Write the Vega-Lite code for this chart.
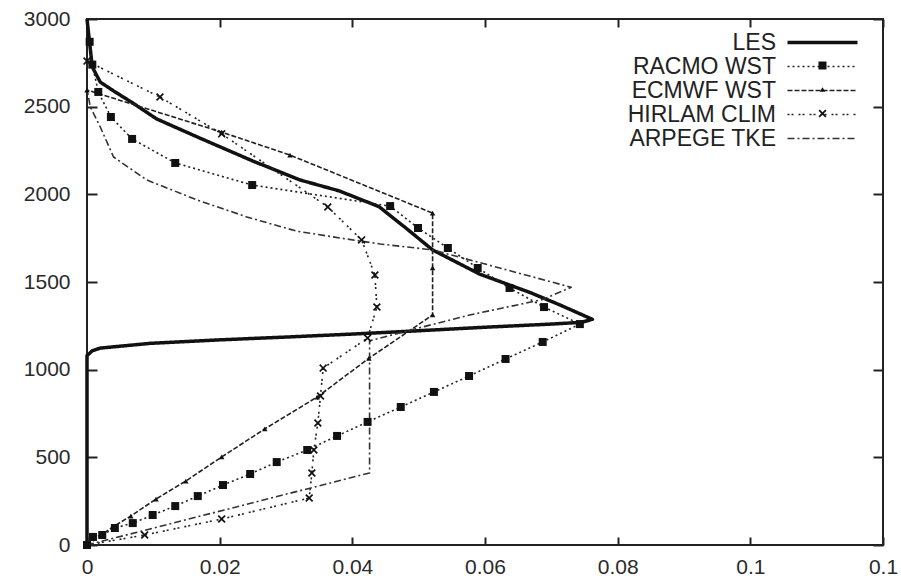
{
  "$schema": "https://vega.github.io/schema/vega-lite/v6.json",
  "width": 796,
  "height": 526,
  "autosize": {"type": "none"},
  "padding": {"left": 87, "top": 19, "right": 18, "bottom": 36},
  "background": "white",
  "config": {
    "view": {"stroke": "#222", "strokeWidth": 2},
    "font": "Liberation Sans",
    "axis": {"grid": false, "domain": false, "labelFont": "Liberation Sans", "labelFontSize": 21, "labelColor": "#2a2a2a", "tickColor": "#222", "tickWidth": 2, "labelFlush": false, "labelOverlap": false}
  },
  "data": {"values": [
    {"s": "LES", "x": 0, "y": 0}, {"s": "LES", "x": 0, "y": 1080}, {"s": "LES", "x": 0.0008, "y": 1108}, {"s": "LES", "x": 0.002, "y": 1123}, {"s": "LES", "x": 0.0095, "y": 1150}, {"s": "LES", "x": 0.02, "y": 1170}, {"s": "LES", "x": 0.03, "y": 1186}, {"s": "LES", "x": 0.04, "y": 1203}, {"s": "LES", "x": 0.05, "y": 1222}, {"s": "LES", "x": 0.06, "y": 1242}, {"s": "LES", "x": 0.07, "y": 1260}, {"s": "LES", "x": 0.0745, "y": 1270}, {"s": "LES", "x": 0.0762, "y": 1287}, {"s": "LES", "x": 0.0713, "y": 1369}, {"s": "LES", "x": 0.0668, "y": 1440}, {"s": "LES", "x": 0.0592, "y": 1545}, {"s": "LES", "x": 0.0521, "y": 1683}, {"s": "LES", "x": 0.048, "y": 1810}, {"s": "LES", "x": 0.044, "y": 1930}, {"s": "LES", "x": 0.038, "y": 2020}, {"s": "LES", "x": 0.0321, "y": 2082}, {"s": "LES", "x": 0.025, "y": 2190}, {"s": "LES", "x": 0.017, "y": 2321}, {"s": "LES", "x": 0.0105, "y": 2430}, {"s": "LES", "x": 0.0069, "y": 2521}, {"s": "LES", "x": 0.004, "y": 2590}, {"s": "LES", "x": 0.002, "y": 2640}, {"s": "LES", "x": 0.0008, "y": 2726}, {"s": "LES", "x": 0, "y": 3000},
    {"s": "RACMO WST", "x": 0, "y": 0}, {"s": "RACMO WST", "x": 0.0009, "y": 46}, {"s": "RACMO WST", "x": 0.0023, "y": 57}, {"s": "RACMO WST", "x": 0.0042, "y": 97}, {"s": "RACMO WST", "x": 0.0069, "y": 125}, {"s": "RACMO WST", "x": 0.0099, "y": 171}, {"s": "RACMO WST", "x": 0.0133, "y": 222}, {"s": "RACMO WST", "x": 0.0167, "y": 279}, {"s": "RACMO WST", "x": 0.0205, "y": 342}, {"s": "RACMO WST", "x": 0.0246, "y": 405}, {"s": "RACMO WST", "x": 0.0286, "y": 473}, {"s": "RACMO WST", "x": 0.0332, "y": 542}, {"s": "RACMO WST", "x": 0.0377, "y": 622}, {"s": "RACMO WST", "x": 0.0423, "y": 702}, {"s": "RACMO WST", "x": 0.0473, "y": 787}, {"s": "RACMO WST", "x": 0.0523, "y": 873}, {"s": "RACMO WST", "x": 0.0576, "y": 964}, {"s": "RACMO WST", "x": 0.0631, "y": 1061}, {"s": "RACMO WST", "x": 0.0687, "y": 1158}, {"s": "RACMO WST", "x": 0.0743, "y": 1260}, {"s": "RACMO WST", "x": 0.0689, "y": 1357}, {"s": "RACMO WST", "x": 0.0637, "y": 1466}, {"s": "RACMO WST", "x": 0.0589, "y": 1580}, {"s": "RACMO WST", "x": 0.0544, "y": 1694}, {"s": "RACMO WST", "x": 0.0499, "y": 1808}, {"s": "RACMO WST", "x": 0.0457, "y": 1933}, {"s": "RACMO WST", "x": 0.0249, "y": 2053}, {"s": "RACMO WST", "x": 0.0133, "y": 2179}, {"s": "RACMO WST", "x": 0.0068, "y": 2316}, {"s": "RACMO WST", "x": 0.0036, "y": 2441}, {"s": "RACMO WST", "x": 0.0017, "y": 2584}, {"s": "RACMO WST", "x": 0.0008, "y": 2740}, {"s": "RACMO WST", "x": 0.0004, "y": 2870},
    {"s": "ECMWF WST", "x": 0, "y": 0}, {"s": "ECMWF WST", "x": 0.0039, "y": 103}, {"s": "ECMWF WST", "x": 0.0066, "y": 165}, {"s": "ECMWF WST", "x": 0.0104, "y": 262}, {"s": "ECMWF WST", "x": 0.0149, "y": 365}, {"s": "ECMWF WST", "x": 0.0203, "y": 502}, {"s": "ECMWF WST", "x": 0.0268, "y": 662}, {"s": "ECMWF WST", "x": 0.0347, "y": 844}, {"s": "ECMWF WST", "x": 0.0425, "y": 1065}, {"s": "ECMWF WST", "x": 0.0521, "y": 1312}, {"s": "ECMWF WST", "x": 0.0521, "y": 1580}, {"s": "ECMWF WST", "x": 0.0521, "y": 1893}, {"s": "ECMWF WST", "x": 0.0306, "y": 2224}, {"s": "ECMWF WST", "x": 0.0203, "y": 2355}, {"s": "ECMWF WST", "x": 0, "y": 2595},
    {"s": "HIRLAM CLIM", "x": 0, "y": 0}, {"s": "HIRLAM CLIM", "x": 0.0087, "y": 57}, {"s": "HIRLAM CLIM", "x": 0.0203, "y": 148}, {"s": "HIRLAM CLIM", "x": 0.0335, "y": 268}, {"s": "HIRLAM CLIM", "x": 0.0339, "y": 411}, {"s": "HIRLAM CLIM", "x": 0.0342, "y": 542}, {"s": "HIRLAM CLIM", "x": 0.0348, "y": 696}, {"s": "HIRLAM CLIM", "x": 0.0352, "y": 850}, {"s": "HIRLAM CLIM", "x": 0.0356, "y": 1009}, {"s": "HIRLAM CLIM", "x": 0.0423, "y": 1180}, {"s": "HIRLAM CLIM", "x": 0.0437, "y": 1357}, {"s": "HIRLAM CLIM", "x": 0.0434, "y": 1540}, {"s": "HIRLAM CLIM", "x": 0.0414, "y": 1740}, {"s": "HIRLAM CLIM", "x": 0.0363, "y": 1928}, {"s": "HIRLAM CLIM", "x": 0.0203, "y": 2345}, {"s": "HIRLAM CLIM", "x": 0.011, "y": 2555}, {"s": "HIRLAM CLIM", "x": 0, "y": 2760},
    {"s": "ARPEGE TKE", "x": 0, "y": 0}, {"s": "ARPEGE TKE", "x": 0.0426, "y": 411}, {"s": "ARPEGE TKE", "x": 0.0426, "y": 1165}, {"s": "ARPEGE TKE", "x": 0.0494, "y": 1232}, {"s": "ARPEGE TKE", "x": 0.0577, "y": 1312}, {"s": "ARPEGE TKE", "x": 0.0687, "y": 1400}, {"s": "ARPEGE TKE", "x": 0.073, "y": 1470}, {"s": "ARPEGE TKE", "x": 0.0521, "y": 1683}, {"s": "ARPEGE TKE", "x": 0.0442, "y": 1717}, {"s": "ARPEGE TKE", "x": 0.0392, "y": 1745}, {"s": "ARPEGE TKE", "x": 0.0316, "y": 1790}, {"s": "ARPEGE TKE", "x": 0.0241, "y": 1871}, {"s": "ARPEGE TKE", "x": 0.0166, "y": 1968}, {"s": "ARPEGE TKE", "x": 0.009, "y": 2082}, {"s": "ARPEGE TKE", "x": 0.004, "y": 2213}, {"s": "ARPEGE TKE", "x": 0.002, "y": 2384}, {"s": "ARPEGE TKE", "x": 0.0005, "y": 2498}, {"s": "ARPEGE TKE", "x": 0, "y": 2600}
  ]},
  "layer": [
    {
      "mark": {"type": "line", "strokeJoin": "round", "strokeCap": "butt"},
      "encoding": {
        "x": {"field": "x", "type": "quantitative", "scale": {"domain": [0, 0.12], "nice": false, "zero": false},
              "axis": {"orient": "bottom", "title": null, "values": [0, 0.02, 0.04, 0.06, 0.08, 0.1, 0.12], "format": "~g", "tickSize": -8, "labelPadding": 19}},
        "y": {"field": "y", "type": "quantitative", "scale": {"domain": [0, 3000], "nice": false, "zero": false},
              "axis": {"orient": "left", "title": null, "values": [0, 500, 1000, 1500, 2000, 2500, 3000], "format": "d", "tickSize": -10, "labelPadding": 27}},
        "color": {"field": "s", "type": "nominal",
                  "scale": {"domain": ["LES", "RACMO WST", "ECMWF WST", "HIRLAM CLIM", "ARPEGE TKE"], "range": ["#111111", "#222222", "#222222", "#222222", "#333333"]},
                  "legend": {"title": null, "orient": "none", "legendX": 724, "legendY": 12, "symbolType": "M-5,0L5,0", "symbolSize": 196, "labelAlign": "right", "labelOffset": -58, "labelFont": "Liberation Sans", "labelFontSize": 23, "labelColor": "#222", "labelLimit": 0, "padding": 0, "rowPadding": 0}},
        "strokeDash": {"field": "s", "type": "nominal",
                  "scale": {"domain": ["LES", "RACMO WST", "ECMWF WST", "HIRLAM CLIM", "ARPEGE TKE"], "range": [[1, 0], [2, 3], [5, 2], [2, 2, 2, 5], [7, 3, 2, 3]]}},
        "strokeWidth": {"field": "s", "type": "nominal",
                  "scale": {"type": "ordinal", "domain": ["LES", "RACMO WST", "ECMWF WST", "HIRLAM CLIM", "ARPEGE TKE"], "range": [3.5, 1.6, 1.6, 1.6, 1.6]}},
        "order": {"value": null}
      }
    },
    {
      "transform": [{"filter": {"field": "s", "oneOf": ["RACMO WST", "ECMWF WST", "HIRLAM CLIM"]}}],
      "mark": {"type": "point", "filled": true, "color": "#111", "opacity": 1},
      "encoding": {
        "x": {"field": "x", "type": "quantitative",
              "axis": {"orient": "top", "title": null, "labels": false, "values": [0, 0.02, 0.04, 0.06, 0.08, 0.1, 0.12], "tickSize": -8}},
        "y": {"field": "y", "type": "quantitative",
              "axis": {"orient": "right", "title": null, "labels": false, "values": [0, 500, 1000, 1500, 2000, 2500, 3000], "tickSize": -10}},
        "shape": {"field": "s", "type": "nominal",
                  "scale": {"domain": ["RACMO WST", "ECMWF WST", "HIRLAM CLIM"], "range": ["square", "triangle-up", "M-1,-0.7L-0.7,-1L0,-0.3L0.7,-1L1,-0.7L0.3,0L1,0.7L0.7,1L0,0.3L-0.7,1L-1,0.7L-0.3,0Z"]},
                  "legend": {"title": null, "orient": "none", "legendX": 724, "legendY": 35, "labelAlign": "right", "labelOffset": -100, "labelExpr": "' '", "labelFont": "Liberation Sans", "labelFontSize": 23, "padding": 0, "rowPadding": 0, "symbolFillColor": "#111", "symbolStrokeColor": "#111"}},
        "size": {"field": "s", "type": "nominal",
                 "scale": {"type": "ordinal", "domain": ["RACMO WST", "ECMWF WST", "HIRLAM CLIM"], "range": [64, 30, 64]}}
      }
    }
  ],
  "resolve": {"axis": {"x": "independent", "y": "independent"}}
}
